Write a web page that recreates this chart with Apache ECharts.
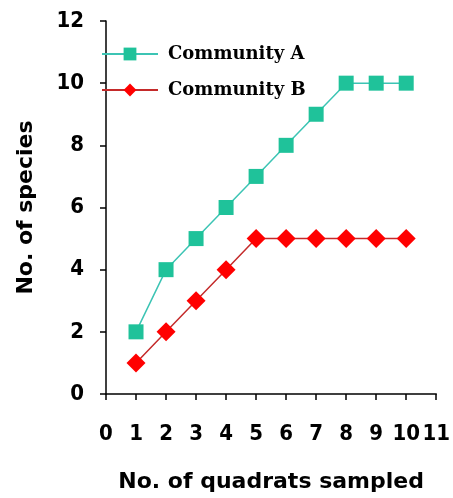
<!DOCTYPE html>
<html><head><meta charset="utf-8">
<script src="https://cdn.jsdelivr.net/npm/echarts@6/dist/echarts.min.js"></script>
<style>html,body{margin:0;padding:0;background:#fff}#c{width:453px;height:498px}</style>
</head><body><div id="c"></div>
<script>
const quadrats = [1,2,3,4,5,6,7,8,9,10];
const communityA = [2,4,5,6,7,8,9,10,10,10];
const communityB = [1,2,3,4,5,5,5,5,5,5];
const seriesNames = ['Community A','Community B'];
const xTitle = 'No. of quadrats sampled';
const yTitle = 'No. of species';

const chart = echarts.init(document.getElementById('c'));
const tickFont = {fontFamily:'DejaVu Sans Condensed, Liberation Sans Narrow, sans-serif', fontWeight:'bold', fontSize:22, color:'#000'};
chart.setOption({
  animation:false,
  grid:{left:106, right:15, top:21, bottom:103},
  legend:{
    orient:'vertical', left:96, top:40, itemGap:18, itemWidth:56, itemHeight:16,
    textStyle:{fontFamily:'DejaVu Serif, serif', fontWeight:'bold', fontSize:18, color:'#000', padding:[0,0,0,5]},
    data:seriesNames
  },
  xAxis:{
    type:'value', min:0, max:11, interval:1,
    axisLine:{lineStyle:{color:'#000', width:1.5}},
    axisTick:{length:6, lineStyle:{color:'#000', width:1.5}},
    splitLine:{show:false},
    axisLabel:Object.assign({margin:29}, tickFont),
    name:xTitle, nameLocation:'middle', nameGap:77,
    nameTextStyle:{fontFamily:'DejaVu Sans, sans-serif', fontWeight:'bold', fontSize:22, color:'#000'}
  },
  yAxis:{
    type:'value', min:0, max:12, interval:2,
    axisLine:{show:true, lineStyle:{color:'#000', width:1.5}},
    axisTick:{show:true, length:6, lineStyle:{color:'#000', width:1.5}},
    splitLine:{show:false},
    axisLabel:Object.assign({margin:22}, tickFont),
    name:yTitle, nameLocation:'middle', nameGap:69, nameRotate:90,
    nameTextStyle:{fontFamily:'DejaVu Sans, sans-serif', fontWeight:'bold', fontSize:22, color:'#000'}
  },
  series:[
    {name:seriesNames[0], type:'line', data:quadrats.map((x,i)=>[x,communityA[i]]),
     symbol:'rect', symbolSize:15, itemStyle:{color:'#1fc29a'}, lineStyle:{color:'#3cc4b4', width:1.5}},
    {name:seriesNames[1], type:'line', data:quadrats.map((x,i)=>[x,communityB[i]]),
     symbol:'diamond', symbolSize:19, itemStyle:{color:'#ff0000'}, lineStyle:{color:'#c42a2a', width:1.5}}
  ]
});
</script></body></html>
